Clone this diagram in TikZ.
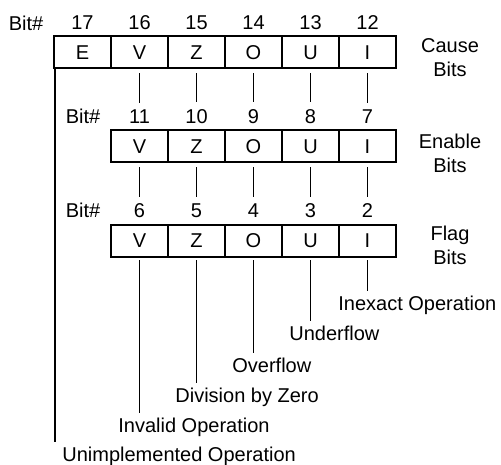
\documentclass[tikz,border=0pt]{standalone}
\usepackage{fontspec}
\setmainfont{Liberation Sans}
\usepackage{tikz}
\tikzset{
  bitcell/.style   = {draw,line width=1pt,minimum width=28.5pt,minimum height=16pt,inner sep=0pt},
  bitnum/.style    = {inner sep=3.33pt},
  tie/.style       = {line width=0.8pt},
  flaglabel/.style = {anchor=base west,inner sep=2pt},
  rowlabel/.style  = {align=center}
}
% #1 row prefix, #2 letter, #3 x, #4 y, #5 bit number
\newcommand{\regbit}[5]{%
  \node[bitcell] (#1#2) at (#3,#4) {#2};
  \node[bitnum] (#1n#2) at (#3,#4-30) {#5};
}
\begin{document}
\begin{tikzpicture}[x=0.5pt,y=-0.5pt]
  \useasboundingbox (0,0) rectangle (501,464);
  % cause bits
  \node[bitnum] (cbit) at (26,23) {Bit\#};
  \regbit{c}{E}{82.5}{52.5}{17}
  \regbit{c}{V}{139.5}{52.5}{16}
  \regbit{c}{Z}{196.5}{52.5}{15}
  \regbit{c}{O}{253.5}{52.5}{14}
  \regbit{c}{U}{310.5}{52.5}{13}
  \regbit{c}{I}{367.5}{52.5}{12}
  \node[rowlabel] (ctext) at (450,57.5) {Cause\\Bits};
  % enable bits
  \node[bitnum] (ebit) at (83,116) {Bit\#};
  \regbit{e}{V}{139.5}{146.5}{11}
  \regbit{e}{Z}{196.5}{146.5}{10}
  \regbit{e}{O}{253.5}{146.5}{9}
  \regbit{e}{U}{310.5}{146.5}{8}
  \regbit{e}{I}{367.5}{146.5}{7}
  \node[rowlabel] (etext) at (450,153.5) {Enable\\Bits};
  % flag bits
  \node[bitnum] (fbit) at (83,210) {Bit\#};
  \regbit{f}{V}{139.5}{241}{6}
  \regbit{f}{Z}{196.5}{241}{5}
  \regbit{f}{O}{253.5}{241}{4}
  \regbit{f}{U}{310.5}{241}{3}
  \regbit{f}{I}{367.5}{241}{2}
  \node[rowlabel] (ftext) at (450,245) {Flag\\Bits};
  % exception names
  \node[flaglabel] (inexact)  at (334,310) {Inexact Operation};
  \node[flaglabel] (underfl)  at (285,340) {Underflow};
  \node[flaglabel] (overfl)   at (228,372) {Overflow};
  \node[flaglabel] (divzero)  at (171,402) {Division by Zero};
  \node[flaglabel] (invalid)  at (114,432) {Invalid Operation};
  \node[flaglabel] (unimpl)   at (58,461)  {Unimplemented Operation};
  \draw[tie,shorten <=2pt] (cV.south) -- (enV.north);
  \draw[tie,shorten <=2pt] (cZ.south) -- (enZ.north);
  \draw[tie,shorten <=2pt] (cO.south) -- (enO.north);
  \draw[tie,shorten <=2pt] (cU.south) -- (enU.north);
  \draw[tie,shorten <=2pt] (cI.south) -- (enI.north);
  \draw[tie,shorten <=2pt] (eV.south) -- (fnV.north);
  \draw[tie,shorten <=2pt] (eZ.south) -- (fnZ.north);
  \draw[tie,shorten <=2pt] (eO.south) -- (fnO.north);
  \draw[tie,shorten <=2pt] (eU.south) -- (fnU.north);
  \draw[tie,shorten <=2pt] (eI.south) -- (fnI.north);
  \draw[tie,shorten <=1pt] (fI.south) -- (fI.south |- inexact.north);
  \draw[tie,shorten <=1pt] (fU.south) -- (fU.south |- underfl.north);
  \draw[tie,shorten <=1pt] (fO.south) -- (fO.south |- overfl.north);
  \draw[tie,shorten <=1pt] (fZ.south) -- (fZ.south |- divzero.north);
  \draw[tie,shorten <=1pt] (fV.south) -- (fV.south |- invalid.north);
  \draw[tie] ([xshift=1pt]cE.south west) -- ([xshift=1pt]cE.south west |- unimpl.north);
\end{tikzpicture}
\end{document}
